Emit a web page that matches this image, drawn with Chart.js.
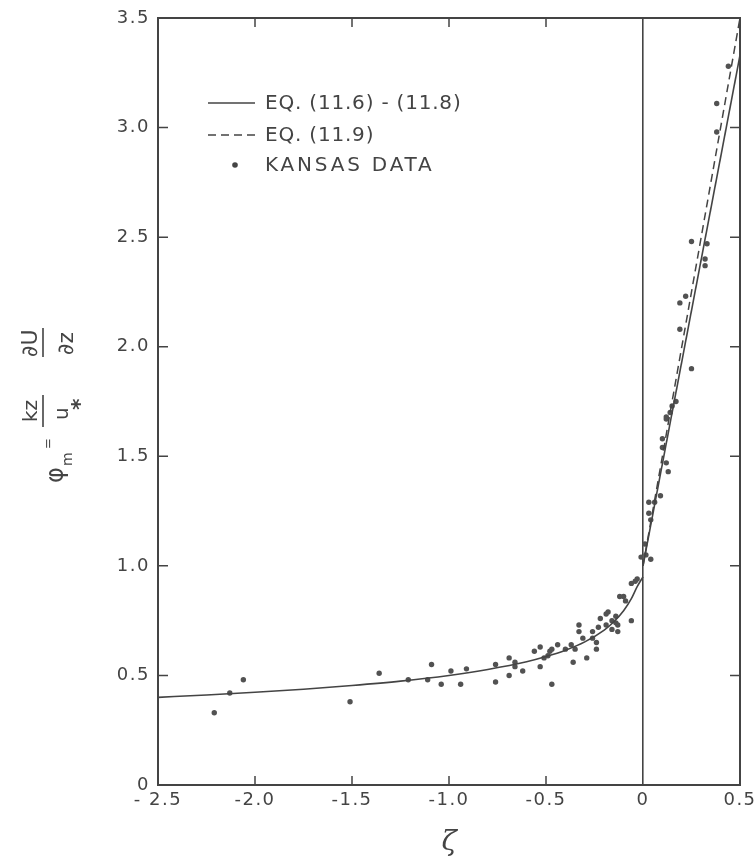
<!DOCTYPE html>
<html>
<head>
<meta charset="utf-8">
<script src="https://cdn.jsdelivr.net/npm/chart.js@4.4.1/dist/chart.umd.min.js"></script>
<style>
  html, body { margin: 0; padding: 0; background: #fff; }
  #wrap { width: 754px; height: 860px; }
</style>
</head>
<body>
<div id="wrap"><canvas id="phiChart" width="754" height="860"></canvas></div>
<script>
// Kansas observations: stability parameter zeta and dimensionless shear phi_m
const kansasZeta = [
  -2.21, -2.13, -2.06, -1.51, -1.36, -1.21, -1.11, -1.09, -1.04, -0.99,
  -0.94, -0.91, -0.76, -0.76, -0.69, -0.69, -0.66, -0.66, -0.62, -0.56,
  -0.53, -0.53, -0.51, -0.49, -0.48, -0.47, -0.47, -0.44, -0.40, -0.37,
  -0.36, -0.35, -0.33, -0.33, -0.31, -0.29, -0.26, -0.26, -0.24, -0.24,
  -0.23, -0.22, -0.19, -0.19, -0.18, -0.16, -0.16, -0.14, -0.14, -0.13,
  -0.13, -0.12, -0.10, -0.09, -0.06, -0.06, -0.04, -0.03,
  -0.01, 0.01, 0.015, 0.04, 0.03, 0.06, 0.03, 0.04, 0.09, 0.12,
  0.13, 0.10, 0.10, 0.12, 0.12, 0.14, 0.15, 0.17, 0.25, 0.19,
  0.19, 0.22, 0.32, 0.32, 0.33, 0.25, 0.38, 0.38, 0.44
];
const kansasPhi = [
  0.33, 0.42, 0.48, 0.38, 0.51, 0.48, 0.48, 0.55, 0.46, 0.52,
  0.46, 0.53, 0.55, 0.47, 0.58, 0.50, 0.56, 0.54, 0.52, 0.61,
  0.63, 0.54, 0.58, 0.59, 0.61, 0.62, 0.46, 0.64, 0.62, 0.64,
  0.56, 0.62, 0.70, 0.73, 0.67, 0.58, 0.70, 0.67, 0.65, 0.62,
  0.72, 0.76, 0.73, 0.78, 0.79, 0.75, 0.71, 0.77, 0.74, 0.73,
  0.70, 0.86, 0.86, 0.84, 0.75, 0.92, 0.93, 0.94,
  1.04, 1.10, 1.05, 1.03, 1.29, 1.29, 1.24, 1.21, 1.32, 1.47,
  1.43, 1.58, 1.54, 1.68, 1.67, 1.70, 1.73, 1.75, 1.90, 2.08,
  2.20, 2.23, 2.37, 2.40, 2.47, 2.48, 2.98, 3.11, 3.28
];

// Eq. (11.6): unstable branch
const unstableZeta = [-2.5, -2.25, -2.0, -1.75, -1.5, -1.25, -1.0, -0.8, -0.6,
  -0.5, -0.4, -0.3, -0.2, -0.15, -0.1, -0.06, -0.03, 0];
const unstablePhi = [0.40, 0.411, 0.423, 0.437, 0.454, 0.474, 0.50, 0.527, 0.562,
  0.586, 0.615, 0.653, 0.707, 0.745, 0.795, 0.85, 0.905, 0.95];
// Eq. (11.8): stable branch
const stableZeta = [0, 0.5];
const stablePhi = [1.0, 3.33];
// Eq. (11.9)
const webbZeta = [0, 0.5];
const webbPhi = [1.0, 3.5];

const xTickLabels = ["- 2.5", "-2.0", "-1.5", "-1.0", "-0.5", "0", "0.5"];
const yTickLabels = ["0", "0.5", "1.0", "1.5", "2.0", "2.5", "3.0", "3.5"];

const INK = "#444";
const FONT = "'DejaVu Sans', sans-serif";

const toPoints = (xs, ys) => xs.map((x, i) => ({ x, y: ys[i] }));

function drawYTitle(ctx) {
  ctx.save();
  ctx.translate(43, 483);
  ctx.rotate(-Math.PI / 2);
  ctx.fillStyle = INK;
  ctx.strokeStyle = INK;
  ctx.letterSpacing = "0px";
  ctx.textAlign = "left";
  ctx.textBaseline = "alphabetic";
  ctx.font = `24px ${FONT}`;
  ctx.fillText("φ", 0, 20);
  ctx.font = `14px ${FONT}`;
  ctx.fillText("m", 17, 29);
  ctx.font = `13px ${FONT}`;
  ctx.textBaseline = "middle";
  ctx.fillText("=", 34, 6);
  ctx.textBaseline = "alphabetic";
  ctx.font = `20px ${FONT}`;
  ctx.fillText("kz", 61, -6);
  ctx.fillText("u", 63, 25);
  ctx.font = `bold 22px ${FONT}`;
  ctx.fillText("*", 73, 44);
  ctx.font = `22px ${FONT}`;
  ctx.fillText("∂U", 126, -6);
  ctx.fillText("∂z", 128, 30);
  ctx.lineWidth = 1.6;
  ctx.beginPath();
  ctx.moveTo(56, 0); ctx.lineTo(88, 0);
  ctx.moveTo(126, 0); ctx.lineTo(155, 0);
  ctx.stroke();
  ctx.restore();
}

function drawLegend(chart) {
  const ctx = chart.ctx;
  const ds = chart.data.datasets;
  const rows = [
    { set: ds[0], y: 103, spacing: "0.8px" },
    { set: ds[2], y: 135, spacing: "0.8px" },
    { set: ds[3], y: 165, spacing: "2.8px" }
  ];
  ctx.save();
  ctx.font = `20px ${FONT}`;
  ctx.textBaseline = "middle";
  ctx.textAlign = "left";
  rows.forEach(({ set, y, spacing }) => {
    ctx.strokeStyle = INK;
    ctx.fillStyle = INK;
    if (set.type === "scatter") {
      ctx.beginPath();
      ctx.arc(235, y, 2.8, 0, Math.PI * 2);
      ctx.fill();
    } else {
      ctx.lineWidth = 1.6;
      ctx.setLineDash(set.borderDash || []);
      ctx.beginPath();
      ctx.moveTo(208, y);
      ctx.lineTo(255, y);
      ctx.stroke();
      ctx.setLineDash([]);
    }
    ctx.letterSpacing = spacing;
    ctx.fillText(set.label, 265, y + 1);
  });
  ctx.restore();
}

const decorations = {
  id: "decorations",
  beforeLayout(chart) { chart.ctx.letterSpacing = "1.5px"; },
  beforeDraw(chart) { chart.ctx.letterSpacing = "1.5px"; },
  afterDatasetsDraw(chart) {
    const { ctx, chartArea: a, scales: { x, y } } = chart;
    ctx.save();
    ctx.strokeStyle = INK;
    ctx.lineWidth = 2;
    ctx.strokeRect(a.left, a.top, a.right - a.left, a.bottom - a.top);

    // ticks point into the plot on all four sides
    ctx.lineWidth = 1.5;
    ctx.beginPath();
    x.ticks.forEach((t) => {
      if (t.value <= -2.5 || t.value >= 0) return;
      const px = x.getPixelForValue(t.value);
      ctx.moveTo(px, a.bottom); ctx.lineTo(px, a.bottom - 9);
      ctx.moveTo(px, a.top); ctx.lineTo(px, a.top + 9);
    });
    y.ticks.forEach((t) => {
      if (t.value <= 0 || t.value >= 3.5) return;
      const py = y.getPixelForValue(t.value);
      ctx.moveTo(a.left, py); ctx.lineTo(a.left + 10, py);
      ctx.moveTo(a.right, py); ctx.lineTo(a.right - 10, py);
    });
    ctx.stroke();
    ctx.restore();

    drawLegend(chart);
    drawYTitle(ctx);

    ctx.save();
    ctx.letterSpacing = "0px";
    ctx.fillStyle = INK;
    ctx.font = "italic 28px 'DejaVu Serif', serif";
    ctx.textAlign = "center";
    ctx.textBaseline = "middle";
    ctx.fillText("ζ", (a.left + a.right) / 2, 843);
    ctx.restore();
  }
};

new Chart(document.getElementById("phiChart"), {
  type: "line",
  data: {
    datasets: [
      {
        label: "EQ. (11.6) - (11.8)",
        data: toPoints(unstableZeta, unstablePhi),
        borderColor: INK,
        borderWidth: 1.6,
        pointRadius: 0,
        cubicInterpolationMode: "monotone"
      },
      {
        label: "EQ. (11.8)",
        data: toPoints(stableZeta, stablePhi),
        borderColor: INK,
        borderWidth: 1.6,
        pointRadius: 0
      },
      {
        label: "EQ. (11.9)",
        data: toPoints(webbZeta, webbPhi),
        borderColor: INK,
        borderWidth: 1.5,
        borderDash: [8, 5],
        pointRadius: 0
      },
      {
        type: "scatter",
        label: "KANSAS DATA",
        data: toPoints(kansasZeta, kansasPhi),
        backgroundColor: "#525252",
        borderWidth: 0,
        pointRadius: 2.7
      }
    ]
  },
  options: {
    responsive: false,
    animation: false,
    devicePixelRatio: 1,
    layout: { padding: { top: 18, right: 14, left: 0, bottom: 0 } },
    plugins: {
      legend: { display: false },
      tooltip: { enabled: false }
    },
    scales: {
      x: {
        type: "linear",
        min: -2.5,
        max: 0.5,
        afterFit: (s) => {
          s.height = 75;
          s.paddingLeft = 0;
          s.paddingRight = 0;
        },
        border: { display: false },
        grid: {
          drawTicks: false,
          lineWidth: 1.6,
          color: (c) => (c.tick && c.tick.value === 0 ? INK : "rgba(0,0,0,0)")
        },
        ticks: {
          stepSize: 0.5,
          padding: 5,
          color: INK,
          font: { family: FONT, size: 18 },
          maxRotation: 0,
          callback: (v, i) => xTickLabels[i]
        }
      },
      y: {
        min: 0,
        max: 3.5,
        afterFit: (s) => {
          s.width = 158;
          s.paddingTop = 0;
          s.paddingBottom = 0;
        },
        border: { display: false },
        grid: { display: false, drawTicks: false },
        ticks: {
          stepSize: 0.5,
          padding: 8,
          color: INK,
          font: { family: FONT, size: 18 },
          callback: (v, i) => yTickLabels[i]
        }
      }
    }
  },
  plugins: [decorations]
});
</script>
</body>
</html>
